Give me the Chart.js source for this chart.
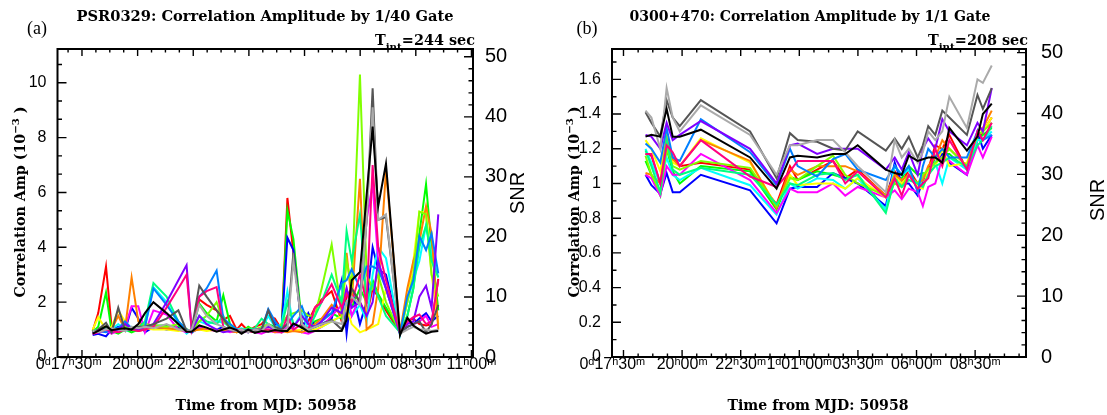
<!DOCTYPE html>
<html><head><meta charset="utf-8">
<script src="https://cdn.jsdelivr.net/npm/chart.js@4/dist/chart.umd.min.js"></script>
<style>
html,body{margin:0;padding:0;background:#fff;}
#wrap{position:relative;width:1107px;height:415px;background:#fff;}
.pane{position:absolute;top:0;height:415px;}
</style></head><body>
<div id="wrap">
<div class="pane" style="left:0;width:553px"><canvas id="ca"></canvas></div>
<div class="pane" style="left:553px;width:554px"><canvas id="cb"></canvas></div>
</div>
<script>
// ---------- Panel (a): PSR0329, time in hours from MJD 50958 0h ----------
const TIME_A = [17.98,18.23,18.58,18.83,19.13,19.43,19.73,20.03,20.33,20.71,21.30,21.83,22.20,22.43,22.77,23.10,23.55,23.85,24.15,24.45,24.67,24.97,25.27,25.57,25.87,26.17,26.47,26.73,27.00,27.38,27.67,27.97,28.27,28.72,29.17,29.39,29.62,29.99,30.29,30.56,30.81,31.16,31.79,32.12,32.39,32.66,32.96,33.21,33.51];
const A_BLACK  = [0.85,0.95,1.12,0.98,1.02,1.05,1.0,1.2,1.6,2.0,1.6,1.2,0.92,0.92,1.15,1.07,0.92,1.0,1.07,0.98,0.85,1.0,0.88,0.95,0.92,0.98,0.95,0.95,1.22,1.07,0.92,0.95,0.95,0.95,0.95,1.35,2.8,3.1,5.9,8.4,5.5,7.05,0.8,1.43,1.15,1.0,0.85,0.92,0.95];
const A_RED    = [0.95,1.6,3.3,1.1,1.0,1.1,1.0,0.95,1.0,1.1,1.05,1.0,0.95,1.0,2.1,1.9,1.7,1.35,1.5,1.0,1.2,0.95,1.1,1.2,1.5,1.4,1.0,5.8,3.8,1.2,1.3,1.8,2.1,2.4,1.3,2.2,2.5,2.0,1.5,2.5,2.2,1.7,0.9,1.3,1.4,1.2,1.15,1.2,2.85];
const A_GREEN  = [0.9,1.1,2.35,0.95,0.85,1.0,0.9,1.0,1.05,1.15,1.15,1.1,0.95,0.9,1.95,1.6,1.3,2.25,1.2,1.0,0.9,1.1,0.95,1.0,1.2,1.1,0.95,5.35,4.3,1.2,1.0,1.3,1.4,1.6,1.4,2.0,1.8,2.5,2.0,2.8,2.3,1.8,0.95,1.5,2.5,4.5,6.3,4.0,1.7];
const A_BLUE   = [0.8,0.85,0.75,1.0,1.1,0.95,1.8,1.4,0.9,1.1,1.0,1.05,0.95,0.9,1.05,1.0,1.0,1.1,0.95,0.9,1.0,0.9,1.0,0.95,1.7,1.2,1.0,4.35,3.9,1.0,1.6,1.1,1.2,1.4,2.8,0.85,2.5,1.2,2.0,4.0,3.2,3.0,0.85,1.1,1.2,1.4,1.6,1.3,1.5];
const A_CYAN   = [0.9,0.95,1.0,1.0,1.2,0.95,1.0,1.05,1.1,2.55,2.0,1.2,0.85,1.0,1.3,1.2,1.3,1.25,1.1,1.0,1.05,0.95,1.0,1.0,1.5,1.1,1.2,2.4,1.1,1.6,1.0,1.0,1.1,1.3,1.5,2.0,1.5,1.9,1.3,3.0,4.0,3.6,0.8,2.0,2.8,3.5,4.8,3.8,2.9];
const A_MAGENTA= [0.85,0.9,0.95,0.85,0.95,1.05,1.85,1.85,0.9,1.7,1.55,1.0,0.9,0.95,1.1,1.0,0.95,1.0,0.9,0.95,0.9,0.95,0.9,0.85,0.95,0.9,0.9,1.1,1.0,0.9,0.85,0.95,1.1,1.5,1.9,2.5,1.5,2.2,5.0,6.3,3.5,2.5,0.9,1.3,1.2,1.3,1.5,1.1,1.2];
const A_YELLOW = [1.0,1.45,1.0,1.1,1.7,1.3,1.0,1.1,1.05,1.0,1.0,0.95,1.0,0.95,1.0,0.95,1.0,0.95,1.05,0.9,0.95,1.0,0.95,1.0,0.95,1.0,0.9,1.0,0.95,1.0,1.05,1.0,1.1,1.3,1.5,1.8,1.2,0.9,1.0,1.1,1.2,2.5,0.9,2.0,3.5,5.3,5.25,3.0,1.2];
const A_ORANGE = [0.9,1.0,1.0,1.0,1.5,1.0,2.9,1.3,1.0,1.1,1.05,1.0,1.0,0.95,1.0,1.05,0.95,1.0,0.95,0.9,1.0,0.95,0.9,0.95,1.0,0.9,0.95,0.9,0.95,0.9,1.0,1.2,1.4,1.9,1.5,3.8,2.0,6.5,1.0,1.2,2.5,6.8,0.9,2.5,3.5,4.2,5.5,4.5,1.0];
const A_CHART  = [0.95,1.0,1.1,0.9,1.0,1.1,1.0,1.1,1.2,1.15,1.1,1.2,1.0,0.95,1.3,1.5,2.0,1.3,1.1,1.0,0.95,1.05,1.0,1.1,1.2,1.0,1.2,1.5,1.6,1.7,1.5,1.5,2.5,4.1,1.6,3.5,2.6,10.3,3.0,2.5,3.0,2.0,0.9,2.0,3.0,5.3,5.2,3.0,2.2];
const A_SPRING = [0.95,1.0,1.05,0.95,1.05,1.0,1.1,1.05,1.3,2.7,2.2,1.3,1.0,0.95,1.5,1.3,1.2,1.5,1.0,0.95,1.0,1.0,1.05,1.4,1.2,1.0,1.1,2.0,1.2,1.1,1.0,1.5,2.0,3.0,2.0,4.6,3.5,5.2,2.0,2.7,2.2,1.5,0.9,1.5,2.5,4.0,4.8,3.5,2.9];
const A_DODGER = [0.9,0.95,0.9,1.0,1.05,1.3,1.05,1.0,1.1,2.5,1.9,1.3,1.0,0.9,2.2,2.5,3.15,1.4,1.2,1.0,0.95,1.0,0.95,1.0,1.75,1.3,1.0,1.2,1.5,1.85,1.2,1.1,1.3,1.6,2.7,2.8,3.2,2.5,3.3,3.3,3.2,2.5,0.85,2.2,2.8,4.4,3.9,4.5,3.05];
const A_PURPLE = [0.9,0.95,1.0,0.9,1.0,1.2,1.05,1.0,1.1,1.2,2.0,2.8,3.35,0.95,1.5,1.2,1.0,0.9,0.95,1.0,0.9,0.95,1.0,1.0,1.1,1.0,0.9,1.0,1.1,1.5,1.2,1.1,1.3,1.8,1.6,2.5,1.8,2.0,1.5,2.0,3.5,2.5,0.85,1.2,1.3,2.2,2.6,1.8,5.2];
const A_PINK   = [0.85,0.9,1.0,0.95,0.9,1.0,1.0,0.95,1.0,1.1,1.8,2.5,3.0,1.0,2.2,2.4,2.55,1.1,1.0,0.95,1.0,0.9,0.95,1.0,1.0,0.95,0.9,1.5,1.0,1.2,1.0,1.8,2.0,2.65,1.8,2.3,2.0,3.0,2.0,7.0,4.0,2.8,0.9,1.3,1.45,1.55,1.2,1.3,2.8];
const A_DGRAY  = [0.9,1.0,1.25,0.9,1.8,1.0,1.0,1.1,1.1,1.2,1.4,1.7,0.95,1.0,2.6,2.2,1.7,1.4,1.05,0.95,0.9,1.0,0.95,1.0,1.7,1.1,1.0,1.2,3.8,1.1,1.0,1.1,1.2,1.35,1.0,1.5,2.5,2.0,5.0,9.8,5.0,5.1,0.9,1.1,1.2,1.3,0.9,1.2,1.9];
const A_LGRAY  = [0.95,0.9,1.0,1.05,1.0,0.95,1.1,1.05,1.1,1.05,1.2,1.0,0.95,1.0,1.9,1.5,1.2,1.1,1.0,0.95,1.0,0.9,1.0,0.95,1.2,1.0,0.95,1.0,3.5,1.2,1.0,1.1,1.2,1.3,1.2,2.0,2.2,1.9,5.0,9.1,5.0,5.2,0.85,1.0,1.1,1.0,1.0,0.95,1.0];

// ---------- Panel (b): 0300+470 ----------
const TIME_B = [18.44,18.69,19.07,19.34,19.60,19.90,20.80,22.90,24.03,24.60,24.93,25.76,26.44,26.96,27.49,28.69,29.07,29.37,29.67,30.05,30.27,30.50,30.80,31.10,31.40,32.15,32.60,32.83,33.21];
const B_BLACK  = [1.27,1.28,1.27,1.43,1.27,1.27,1.31,1.15,0.97,1.15,1.16,1.15,1.17,1.17,1.22,1.08,1.06,1.05,1.16,1.13,1.14,1.15,1.15,1.12,1.32,1.19,1.27,1.40,1.46];
const B_LGRAY  = [1.42,1.38,1.2,1.55,1.38,1.30,1.45,1.28,1.05,1.22,1.22,1.25,1.25,1.18,1.10,0.95,1.25,1.15,1.2,1.12,1.18,1.3,1.25,1.3,1.5,1.32,1.6,1.58,1.68];
const B_DGRAY  = [1.41,1.35,1.27,1.48,1.38,1.33,1.48,1.30,1.03,1.29,1.25,1.24,1.20,1.19,1.3,1.19,1.26,1.2,1.27,1.15,1.22,1.33,1.28,1.42,1.38,1.28,1.51,1.43,1.55];
const B_PURPLE = [1.28,1.27,1.2,1.35,1.25,1.28,1.36,1.2,1.0,1.22,1.23,1.17,1.2,1.2,1.2,1.08,1.15,1.08,1.18,1.05,1.2,1.26,1.2,1.37,1.3,1.22,1.35,1.3,1.55];
const B_DODGER = [1.23,1.2,1.12,1.32,1.15,1.13,1.37,1.18,0.99,1.2,1.1,1.04,1.14,1.17,1.08,1.02,1.1,1.05,1.1,0.95,1.1,1.2,1.15,1.2,1.15,1.15,1.3,1.25,1.28];
const B_ORANGE = [1.06,1.05,1.0,1.26,1.14,1.1,1.25,1.13,0.86,1.08,1.05,1.1,1.1,1.1,1.07,0.93,1.05,1.02,1.05,1.0,1.02,1.1,1.15,1.25,1.2,1.1,1.3,1.32,1.42];
const B_YELLOW = [1.25,1.2,1.07,1.3,1.12,1.1,1.26,1.12,0.87,1.05,0.99,1.0,1.0,0.97,1.03,0.92,1.05,1.0,1.05,0.98,0.97,1.08,1.1,1.2,1.1,1.12,1.28,1.3,1.38];
const B_RED    = [1.17,1.16,1.0,1.23,1.15,1.1,1.12,1.08,0.88,1.1,1.02,1.08,1.13,1.03,1.08,0.93,1.07,1.0,1.08,1.0,1.03,1.08,1.22,1.2,1.28,1.08,1.25,1.3,1.38];
const B_PINK   = [1.17,1.17,1.0,1.22,1.18,1.1,1.25,1.04,0.98,1.07,1.13,1.13,1.13,1.0,1.07,0.92,1.03,0.93,1.05,0.97,1.0,1.03,1.2,1.1,1.25,1.08,1.3,1.25,1.35];
const B_CHART  = [1.16,1.05,0.95,1.2,1.1,1.08,1.13,1.09,0.87,1.03,1.02,1.1,1.16,1.05,1.0,0.93,1.0,0.98,1.05,1.0,1.05,1.08,1.12,1.15,1.2,1.1,1.28,1.3,1.35];
const B_GREEN  = [1.13,1.05,0.93,1.2,1.07,1.0,1.1,1.07,0.85,1.04,1.02,1.07,1.05,1.03,1.05,0.85,1.02,1.03,1.1,1.05,1.06,1.05,1.15,1.17,1.17,1.08,1.25,1.28,1.32];
const B_SPRING = [1.19,1.1,0.95,1.25,1.08,1.05,1.09,1.05,0.88,1.0,0.99,1.05,1.06,1.02,1.05,0.83,1.03,0.98,1.02,1.0,0.98,1.05,1.1,1.12,1.15,1.1,1.22,1.25,1.33];
const B_CYAN   = [1.2,1.12,1.0,1.15,1.05,1.02,1.09,0.99,0.82,1.0,0.97,1.03,1.02,0.97,1.03,0.85,1.1,1.05,1.08,0.96,1.03,1.07,1.12,1.0,1.15,1.08,1.25,1.25,1.3];
const B_BLUE   = [1.05,0.99,0.94,1.06,0.95,0.95,1.05,0.96,0.77,0.97,0.98,0.98,1.06,1.03,1.0,0.87,1.12,1.0,1.0,0.93,1.02,1.05,1.12,1.17,1.12,1.05,1.3,1.2,1.28];
const B_MAGENTA= [1.05,1.03,0.93,1.1,1.05,1.05,1.17,1.02,0.83,0.97,0.95,0.95,1.0,0.93,0.98,0.92,0.96,0.91,0.97,0.95,0.87,0.98,1.0,1.15,1.13,1.05,1.22,1.15,1.27];

const COL = {black:'#000000', lgray:'#aaaaaa', dgray:'#555555', pink:'#ff0080', purple:'#8000ff', dodger:'#0080ff',
  spring:'#00ff80', chart:'#80ff00', orange:'#ff8000', yellow:'#ffff00', magenta:'#ff00ff', cyan:'#00ffff',
  blue:'#0000ff', green:'#00ff00', red:'#ff0000'};

const SERIES_A = [['black',A_BLACK],['lgray',A_LGRAY],['dgray',A_DGRAY],['pink',A_PINK],['purple',A_PURPLE],['dodger',A_DODGER],['spring',A_SPRING],['chart',A_CHART],['orange',A_ORANGE],['yellow',A_YELLOW],['magenta',A_MAGENTA],['cyan',A_CYAN],['blue',A_BLUE],['green',A_GREEN],['red',A_RED]];
const SERIES_B = [['black',B_BLACK],['lgray',B_LGRAY],['dgray',B_DGRAY],['pink',B_PINK],['purple',B_PURPLE],['dodger',B_DODGER],['spring',B_SPRING],['chart',B_CHART],['orange',B_ORANGE],['yellow',B_YELLOW],['magenta',B_MAGENTA],['cyan',B_CYAN],['blue',B_BLUE],['green',B_GREEN],['red',B_RED]];

const SERIF = '"DejaVu Serif", "Liberation Serif", serif';
const SANS = '"Liberation Sans", Arial, sans-serif';

function drawParts(ctx, parts, cx, base, targetW, rot) {
  let w = 0;
  for (const p of parts) { ctx.font = p.font; p.w = ctx.measureText(p.t).width; w += p.w; }
  const s = targetW ? targetW / w : 1;
  ctx.save();
  ctx.translate(cx, base);
  if (rot) ctx.rotate(rot);
  ctx.scale(s, 1);
  ctx.textAlign = 'left'; ctx.textBaseline = 'alphabetic'; ctx.fillStyle = '#000';
  let x = -w / 2;
  for (const p of parts) { ctx.font = p.font; ctx.fillText(p.t, x, p.dy || 0); x += p.w; }
  ctx.restore();
}

const framePlugin = {
  id: 'frame',
  afterDatasetsDraw(chart) {
    const o = chart.options.plugins.frame;
    const {ctx, chartArea: a, scales} = chart;
    ctx.save();
    ctx.strokeStyle = '#000';
    ctx.lineWidth = 1.4;
    ctx.beginPath();
    const isMul = (v, m) => Math.abs(v / m - Math.round(v / m)) < 1e-6;
    const xs = scales.x;
    for (let k = Math.ceil(xs.min / o.xMinor - 1e-9); k * o.xMinor <= xs.max + 1e-9; k++) {
      const v = k * o.xMinor, px = xs.getPixelForValue(v);
      const L = isMul(v, o.xMajor) ? 7 : 3.5;
      ctx.moveTo(px, a.bottom); ctx.lineTo(px, a.bottom - L);
      ctx.moveTo(px, a.top); ctx.lineTo(px, a.top + L);
    }
    const ys = scales.y;
    for (let k = 0; k * o.yMinor <= ys.max + 1e-9; k++) {
      const v = k * o.yMinor, py = ys.getPixelForValue(v);
      const L = isMul(v, o.yMajor) ? 9 : 4.5;
      ctx.moveTo(a.left, py); ctx.lineTo(a.left + L, py);
    }
    const y2 = scales.y2;
    for (let k = 0; k * o.y2Minor <= y2.max + 1e-9; k++) {
      const v = k * o.y2Minor, py = y2.getPixelForValue(v);
      const L = isMul(v, o.y2Major) ? 9 : 4.5;
      ctx.moveTo(a.right, py); ctx.lineTo(a.right - L, py);
    }
    ctx.stroke();
    ctx.lineWidth = 2;
    ctx.strokeRect(a.left, a.top, a.right - a.left, a.bottom - a.top);
    ctx.restore();

    const t = o.text;
    const B = 'bold 15px ' + SERIF;
    drawParts(ctx, [{t: t.tag, font: '18px "Liberation Serif", serif'}], t.tagX, 34, 0);
    drawParts(ctx, [{t: t.title, font: B}], t.titleX, 21, t.titleW);
    drawParts(ctx, [{t: 'T', font: 'bold 14px ' + SERIF}, {t: 'int', font: 'bold 10px ' + SERIF, dy: 5}, {t: t.tint, font: 'bold 14px ' + SERIF}], t.tintR - 50, 45, 100);
    drawParts(ctx, [{t: 'Correlation Amp (10', font: 'bold 14px ' + SERIF, dy: 5}, {t: '\u22123', font: 'bold 10px ' + SERIF, dy: -1}, {t: ' )', font: 'bold 14px ' + SERIF, dy: 5}], t.yTitleX, 202, 191, -Math.PI / 2);
    drawParts(ctx, [{t: 'Time from MJD: 50958', font: B}], t.xTitleX, 410, 181);
    drawParts(ctx, [{t: 'SNR', font: '20px ' + SANS, dy: 7}], t.snrX, t.snrY, 0, -Math.PI / 2);
  }
};

function timeLabel(v, min, firstPad) {
  if (Math.abs(v / 2.5 - Math.round(v / 2.5)) > 1e-6) return '';
  const tot = Math.round(v * 60);
  const d = Math.floor(tot / 1440), rem = tot % 1440;
  const h = Math.floor(rem / 60), m = rem % 60;
  const hm = String(h).padStart(2, '0') + '\u02B0' + String(m).padStart(2, '0') + '\u1D50';
  const prev = v - 2.5;
  if (prev < min) return d + '\u1D48' + hm + ' '.repeat(firstPad);
  if (Math.floor(Math.round(prev * 60) / 1440) !== d) return d + '\u1D48' + hm;
  return hm;
}

function makeChart(id, cfg) {
  const zeroPadX = s => { s.height = 58; s.paddingLeft = 0; s.paddingRight = 0; };
  return new Chart(document.getElementById(id), {
    type: 'line',
    data: {
      datasets: cfg.series.map(([c, vals]) => ({
        data: cfg.time.map((t, i) => ({x: t, y: vals[i]})),
        borderColor: COL[c], borderWidth: 2, pointRadius: 0, fill: false, tension: 0, yAxisID: 'y'
      }))
    },
    options: {
      responsive: true, maintainAspectRatio: false, animation: false,
      layout: {padding: {top: 49, left: 0, right: 0, bottom: 0}},
      plugins: {legend: {display: false}, tooltip: {enabled: false}, frame: cfg.frame},
      scales: {
        x: {
          type: 'linear', min: cfg.xMin, max: cfg.xMax,
          grid: {display: false, drawTicks: false}, border: {display: false},
          ticks: {stepSize: 0.625, includeBounds: false, autoSkip: false, maxRotation: 0, minRotation: 0,
            padding: 0, color: '#000', font: {family: SANS, size: 16, lineHeight: 1},
            callback: v => timeLabel(v, cfg.xMin, cfg.firstPad)},
          afterFit: zeroPadX
        },
        y: {
          position: 'left', min: 0, max: cfg.yMax,
          grid: {display: false, drawTicks: false}, border: {display: false},
          ticks: {stepSize: cfg.yStep, includeBounds: false, padding: 11, color: '#000',
            font: {family: SANS, size: 16},
            callback: v => String(Number(v.toFixed(1)))},
          afterFit: s => { s.width = cfg.leftW; s.paddingTop = 0; s.paddingBottom = 0; }
        },
        y2: {
          position: 'right', min: 0, max: cfg.y2Max, display: true,
          grid: {display: false, drawTicks: false}, border: {display: false},
          ticks: {stepSize: 10, includeBounds: false, padding: cfg.y2Pad, color: '#000',
            font: {family: SANS, size: 20}},
          afterFit: s => { s.width = cfg.rightW; s.paddingTop = 0; s.paddingBottom = 0; }
        }
      }
    },
    plugins: [framePlugin]
  });
}

makeChart('ca', {
  time: TIME_A, series: SERIES_A, xMin: 16.40, xMax: 35.07, yMax: 11.23, yStep: 2, y2Max: 51.3,
  leftW: 57.5, rightW: 80, y2Pad: 12, firstPad: 6,
  frame: {xMinor: 0.625, xMajor: 2.5, yMinor: 2 / 3, yMajor: 2, y2Minor: 2, y2Major: 10,
    text: {tag: '(a)', tagX: 37, title: 'PSR0329: Correlation Amplitude by 1/40 Gate', titleX: 265, titleW: 377,
      tint: '=244 sec', tintR: 475, yTitleX: 20, xTitleX: 266, snrX: 517, snrY: 193}}
});
makeChart('cb', {
  time: TIME_B, series: SERIES_B, xMin: 17.01, xMax: 34.67, yMax: 1.775, yStep: 0.2, y2Max: 50.6,
  leftW: 59, rightW: 81, y2Pad: 15, firstPad: 5,
  frame: {xMinor: 0.625, xMajor: 2.5, yMinor: 0.1, yMajor: 0.2, y2Minor: 2, y2Major: 10,
    text: {tag: '(b)', tagX: 34, title: '0300+470: Correlation Amplitude by 1/1 Gate', titleX: 257, titleW: 361,
      tint: '=208 sec', tintR: 475, yTitleX: 21, xTitleX: 265, snrX: 544, snrY: 200}}
});
</script>
</body></html>
